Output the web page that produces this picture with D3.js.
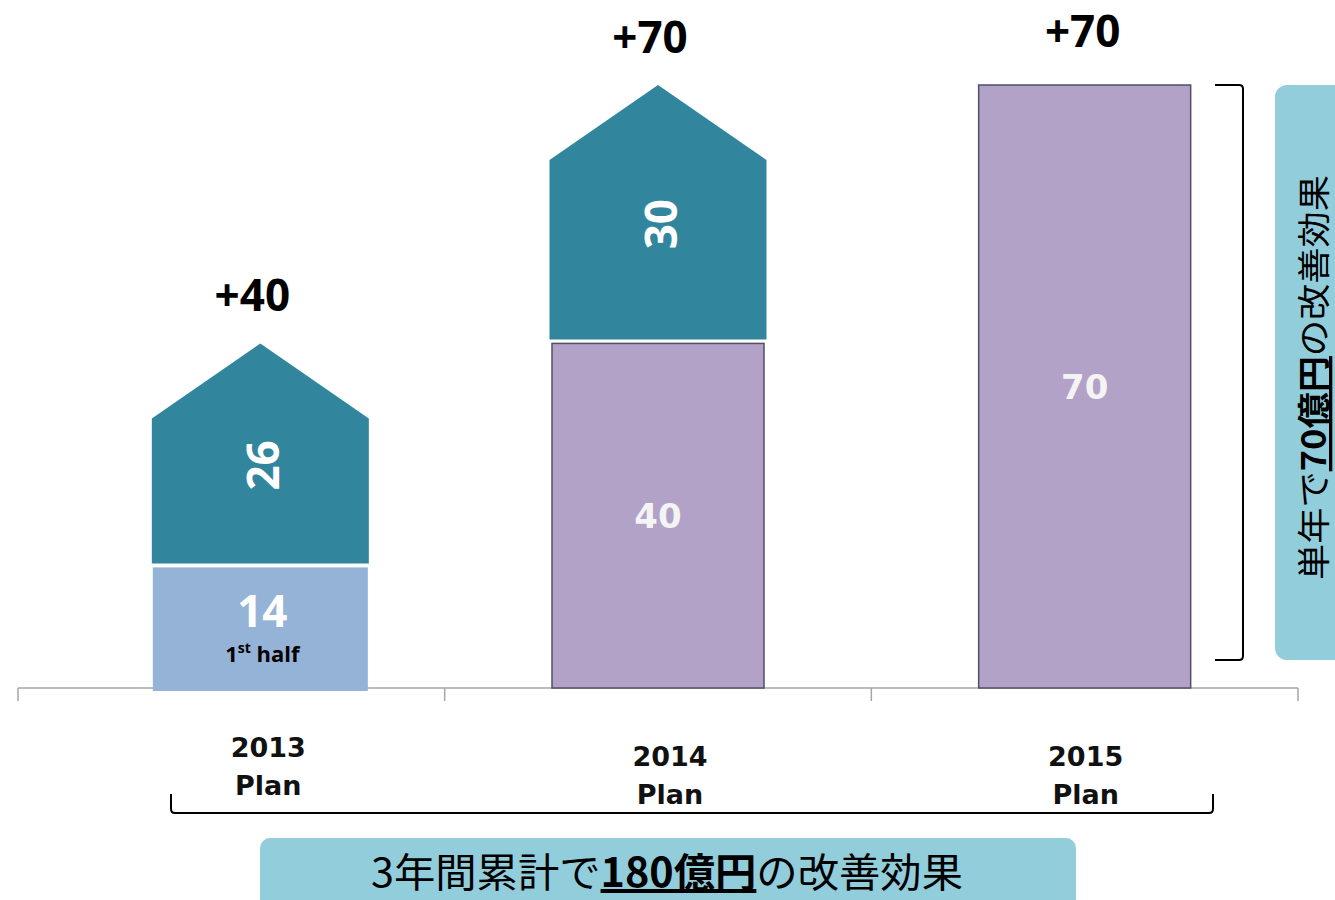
<!DOCTYPE html>
<html>
<head>
<meta charset="utf-8">
<script src="https://cdn.jsdelivr.net/npm/d3@7"></script>
<style>
  body { margin: 0; background: #fff; }
  svg { display: block; }
</style>
</head>
<body>
<div id="chart"></div>
<script>
// Data
const categories = ['2013', '2014', '2015'];
const baseValues = [14, 40, 70];
const addValues = [26, 30, 0];
const totalLabels = ['+40', '+70', '+70'];
const baseKinds = ['half', 'prev', 'prev'];

const W = 1335, H = 900;
const BAR_W = 215;
const ROOF_H = 75;
const NUM_FONT = '"Open Sans", Lato, sans-serif';
const JP_FONT = '"Noto Sans CJK JP", sans-serif';

const COLORS = {
  half: '#95b3d7',
  prev: '#b3a2c8',
  prevStroke: '#4f4f68',
  add: '#31869e',
  box: '#92cddc',
};

const svg = d3.select('#chart').append('svg')
  .attr('width', W)
  .attr('height', H);

const x = d3.scaleBand().domain(categories).range([18, 1298]);
const y = d3.scaleLinear().domain([0, 70]).range([688, 85]);

// small visual nudge of the first bar, as in the original slide
const nudge = c => (c === '2013' ? 29 : 0);
const cx = c => x(c) + x.bandwidth() / 2 + nudge(c);

const data = categories.map((c, i) => ({
  cat: c,
  base: baseValues[i],
  add: addValues[i],
  label: totalLabels[i],
  kind: baseKinds[i],
}));

// Axis line with ticks at band boundaries
const axis = svg.append('g').attr('stroke', '#a6a6a6').attr('stroke-width', 1.5);
axis.append('line')
  .attr('x1', x.range()[0]).attr('x2', x.range()[1])
  .attr('y1', y(0)).attr('y2', y(0));
const bounds = categories.map(c => x(c)).concat([x.range()[1]]);
axis.selectAll('line.tick')
  .data(bounds)
  .join('line')
  .attr('class', 'tick')
  .attr('x1', d => d).attr('x2', d => d)
  .attr('y1', y(0)).attr('y2', y(0) + 13);

// Base segments
svg.append('g').selectAll('rect')
  .data(data)
  .join('rect')
  .attr('x', d => cx(d.cat) - BAR_W / 2 + (d.kind === 'prev' ? 1.5 : 0))
  .attr('width', d => BAR_W - (d.kind === 'prev' ? 3 : 0))
  .attr('y', d => y(d.base))
  .attr('height', d => y(0) - y(d.base) + (d.kind === 'half' ? 3 : 0))
  .attr('fill', d => COLORS[d.kind])
  .attr('stroke', d => d.kind === 'prev' ? COLORS.prevStroke : 'none')
  .attr('stroke-width', 1.5);

// Additional segments (house shape)
const adds = data.filter(d => d.add > 0);
svg.append('g').selectAll('path')
  .data(adds)
  .join('path')
  .attr('d', d => {
    const l = cx(d.cat) - BAR_W / 2 - 1, r = cx(d.cat) + BAR_W / 2 + 1;
    const bottom = y(d.base) - 4;
    const peak = y(d.base + d.add);
    const eave = peak + ROOF_H;
    return `M${l},${bottom}L${l},${eave}L${cx(d.cat)},${peak}L${r},${eave}L${r},${bottom}Z`;
  })
  .attr('fill', COLORS.add);

// Rotated labels in the additional segments
svg.append('g').selectAll('text')
  .data(adds)
  .join('text')
  .attr('transform', d => {
    const my = (y(d.base) - 4 + y(d.base + d.add)) / 2 + 12;
    return `translate(${cx(d.cat) + 2},${my}) rotate(-90)`;
  })
  .attr('text-anchor', 'middle')
  .attr('dominant-baseline', 'central')
  .attr('font-family', NUM_FONT)
  .attr('font-weight', 'bold')
  .attr('font-size', 44)
  .attr('fill', '#fff')
  .text(d => d.add);

// Labels in base segments
const baseLabels = svg.append('g');
data.forEach(d => {
  const mid = (y(d.base) + y(0)) / 2;
  if (d.kind === 'half') {
    baseLabels.append('text')
      .attr('x', cx(d.cat) + 2).attr('y', mid - 18)
      .attr('text-anchor', 'middle')
      .attr('dominant-baseline', 'central')
      .attr('font-family', NUM_FONT).attr('font-weight', 'bold')
      .attr('font-size', 44).attr('fill', '#fff')
      .text(d.base);
    const t = baseLabels.append('text')
      .attr('x', cx(d.cat) + 2).attr('y', mid + 34)
      .attr('text-anchor', 'middle')
      .attr('font-family', NUM_FONT).attr('font-weight', 'bold')
      .attr('font-size', 22).attr('fill', '#000');
    t.append('tspan').text('1');
    t.append('tspan').attr('font-size', 14).attr('dy', -9).text('st');
    t.append('tspan').attr('dy', 9).text(' half');
  } else {
    baseLabels.append('text')
      .attr('x', cx(d.cat)).attr('y', mid)
      .attr('text-anchor', 'middle')
      .attr('dominant-baseline', 'central')
      .attr('font-family', '"DejaVu Sans", sans-serif').attr('font-weight', 'bold')
      .attr('font-size', 34).attr('fill', '#f4f4f4')
      .text(d.base);
  }
});

// Total labels above
svg.append('g').selectAll('text')
  .data(data)
  .join('text')
  .attr('x', d => cx(d.cat) - (d.cat === '2015' ? 2 : 8))
  .attr('y', d => y(d.base + d.add) - (d.add > 0 ? 32 : 38))
  .attr('text-anchor', 'middle')
  .attr('font-family', NUM_FONT)
  .attr('font-weight', 'bold')
  .attr('font-size', 44)
  .attr('fill', '#000')
  .text(d => d.label);

// Category labels
const catG = svg.append('g');
data.forEach((d, i) => {
  const t = catG.append('text')
    .attr('text-anchor', 'middle')
    .attr('font-family', '"DejaVu Sans", sans-serif')
    .attr('font-weight', 'bold')
    .attr('font-size', 27)
    .attr('fill', '#111');
  const lx = cx(d.cat) + (i === 0 ? 8 : i === 1 ? 12 : 1);
  const ly = i === 0 ? 757 : 766;
  t.append('tspan').attr('x', lx).attr('y', ly).text(d.cat);
  t.append('tspan').attr('x', lx).attr('y', ly + 38).text('Plan');
});

// Right bracket
svg.append('path')
  .attr('d', `M1215,${y(70)}L1239,${y(70)}Q1243,${y(70)} 1243,${y(70) + 4}L1243,656Q1243,660 1239,660L1215,660`)
  .attr('fill', 'none').attr('stroke', '#000').attr('stroke-width', 2);

// Right box
svg.append('rect')
  .attr('x', 1275).attr('y', y(70)).attr('width', 90).attr('height', 660 - y(70))
  .attr('rx', 12).attr('fill', COLORS.box);

const rt = svg.append('text')
  .attr('transform', `translate(1312,${(y(70) + 660) / 2 + 5}) rotate(-90)`)
  .attr('text-anchor', 'middle')
  .attr('dominant-baseline', 'central')
  .attr('font-family', JP_FONT)
  .attr('font-size', 33)
  .attr('fill', '#000');
rt.append('tspan').text('単年で');
rt.append('tspan').attr('font-weight', 'bold').attr('text-decoration', 'underline').text('70億円');
rt.append('tspan').text('の改善効果');
rt.attr('textLength', 405).attr('lengthAdjust', 'spacingAndGlyphs');

// Bottom bracket
svg.append('path')
  .attr('d', 'M171,794L171,809Q171,813 175,813L1209,813Q1213,813 1213,809L1213,794')
  .attr('fill', 'none').attr('stroke', '#000').attr('stroke-width', 2);

// Bottom box
svg.append('rect')
  .attr('x', 260).attr('y', 838).attr('width', 816).attr('height', 90)
  .attr('rx', 10).attr('fill', COLORS.box);

const bt = svg.append('text')
  .attr('x', 667).attr('y', 887)
  .attr('text-anchor', 'middle')
  .attr('font-family', JP_FONT)
  .attr('font-size', 40)
  .attr('fill', '#000');
bt.append('tspan').text('3年間累計で');
bt.append('tspan').attr('font-weight', 'bold').attr('text-decoration', 'underline').text('180億円');
bt.append('tspan').text('の改善効果');
bt.attr('textLength', 592).attr('lengthAdjust', 'spacingAndGlyphs');
</script>
</body>
</html>
